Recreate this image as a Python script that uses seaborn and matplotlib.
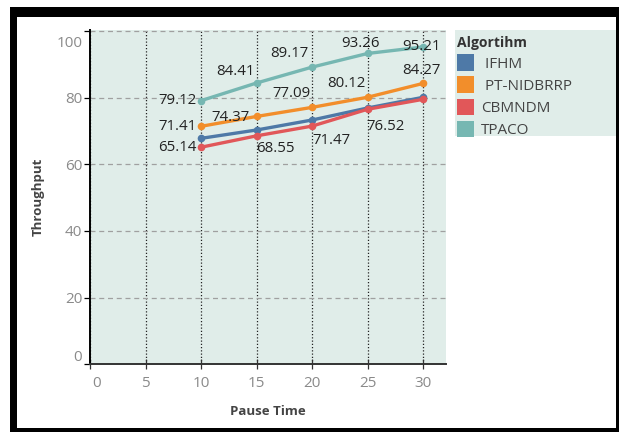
import matplotlib
matplotlib.use("Agg")
import matplotlib.pyplot as plt
from matplotlib.patches import Patch, Rectangle
from matplotlib.transforms import ScaledTranslation
import pandas as pd
import seaborn as sns

# ---- data -------------------------------------------------------------
pause_time = [10, 15, 20, 25, 30]
algorithms = ["IFHM", "PT-NIDBRRP", "CBMNDM", "TPACO"]
legend_labels = [" IFHM", " PT-NIDBRRP", "CBMNDM", "TPACO"]
ifhm = [67.8, 70.3, 73.3, 76.9, 80.1]
pt_nidbrrp = [71.41, 74.37, 77.09, 80.12, 84.27]
cbmndm = [65.14, 68.55, 71.47, 76.52, 79.5]
tpaco = [79.12, 84.41, 89.17, 93.26, 95.21]
x_ticks = [0, 5, 10, 15, 20, 25, 30]
y_ticks = [0, 20, 40, 60, 80, 100]

colors = ["#4E79A7", "#F28E2B", "#E15759", "#76B7B2"]
bg = "#E0EDE9"

series = {"IFHM": ifhm, "PT-NIDBRRP": pt_nidbrrp, "CBMNDM": cbmndm, "TPACO": tpaco}
df = pd.DataFrame(
    [(a, t, v) for a in algorithms for t, v in zip(pause_time, series[a])],
    columns=["Algorithm", "Pause Time", "Throughput"],
)

# value label placement: (point index, dx px, dy px, ha)
label_spots = {
    "TPACO": [(0, -5, 0, "right"), (1, -21, 11, "center"), (2, -23, 14, "center"),
              (3, -7, 10, "center"), (4, -2, 0, "center")],
    "PT-NIDBRRP": [(0, -5, 0, "right"), (1, -26, -1, "center"), (2, -21, 14, "center"),
                   (3, -21, 14, "center"), (4, -2, 13, "center")],
    "CBMNDM": [(0, -5, 0, "right"), (1, 19, -13, "center"), (2, 19, -14, "center"),
               (3, 18, -17, "center")],
}

# ---- style ------------------------------------------------------------
sns.set_style("white")
plt.rcParams["font.family"] = ["Open Sans", "DejaVu Sans"]

W, H = 619, 432
fig = plt.figure(figsize=(W / 100, H / 100), dpi=100)
ax_l, ax_r, ax_t, ax_b = 90.3, 446, 30, 364.3
ax = fig.add_axes([ax_l / W, 1 - ax_b / H, (ax_r - ax_l) / W, (ax_b - ax_t) / H])
ax.set_facecolor(bg)

sns.lineplot(data=df, x="Pause Time", y="Throughput", hue="Algorithm",
             hue_order=algorithms, palette=colors, marker="o", markersize=5.5,
             markeredgewidth=0, linewidth=2.4, legend=False, ax=ax, zorder=3)

for algo, spots in label_spots.items():
    vals = series[algo]
    for i, dx, dy, ha in spots:
        ax.annotate(f"{vals[i]:.2f}", (pause_time[i], vals[i]), xytext=(dx, dy),
                    textcoords="offset pixels", ha=ha, va="center",
                    fontsize=10.8, color="#222222", zorder=5)

ax.set_xlim(0, 32.07)
ax.set_ylim(0, 100.3)
ax.set_xticks(x_ticks)
ax.set_yticks(y_ticks)

ax.yaxis.grid(True, linestyle=(0, (4, 3)), color="#a0a0a0", linewidth=0.9)
ax.xaxis.grid(True, linestyle=(0, (1, 1.6)), color="#222222", linewidth=0.9)
ax.set_axisbelow(True)

for s in ("top", "right"):
    ax.spines[s].set_visible(False)
ax.spines["left"].set_color("black")
ax.spines["left"].set_linewidth(1.4)
ax.spines["bottom"].set_color("#333333")
ax.spines["bottom"].set_linewidth(1.4)

ax.tick_params(axis="y", left=True, direction="out", length=4.3, width=0.9,
               color="black", labelcolor="#8a8a8a", labelsize=11, pad=1.5)
ax.tick_params(axis="x", bottom=True, direction="inout", length=6.5, width=0.9,
               color="#333333", labelcolor="#8a8a8a", labelsize=11, pad=5.5)

fig.canvas.draw()
# keep the outermost tick labels inside the plot area
px = fig.dpi_scale_trans
ytl = ax.yaxis.get_major_ticks()
ytl[-1].label1.set_transform(ytl[-1].label1.get_transform() + ScaledTranslation(0, -0.11, px))
ytl[0].label1.set_transform(ytl[0].label1.get_transform() + ScaledTranslation(0, 0.09, px))
xtl = ax.xaxis.get_major_ticks()
xtl[0].label1.set_transform(xtl[0].label1.get_transform() + ScaledTranslation(0.06, 0, px))

ax.set_xlabel("Pause Time", fontsize=9.5, fontweight="bold", color="#444444")
ax.set_ylabel("Throughput", fontsize=9.5, fontweight="bold", color="#444444")
ax.xaxis.label.set_va("center")
ax.yaxis.label.set_va("center")
ax.xaxis.set_label_coords(0.5, (ax_b - 411.7) / (ax_b - ax_t))
ax.yaxis.set_label_coords((38 - ax_l) / (ax_r - ax_l), 0.5)


def px_rect(x0, y0, x1, y1, **kw):
    return Rectangle((x0 / W, 1 - y1 / H), (x1 - x0) / W, (y1 - y0) / H,
                     transform=fig.transFigure, **kw)


# legend panel
fig.patches.append(px_rect(455, 30, 619, 136, facecolor=bg, edgecolor="none", zorder=0))
handles = [Patch(facecolor=c, edgecolor="none") for c in colors]
leg = fig.legend(handles, legend_labels, title="Algortihm", loc="upper left",
                 bbox_to_anchor=(457 / W, 1 - 35.5 / H), bbox_transform=fig.transFigure,
                 frameon=False, fontsize=11, handlelength=1.1, handleheight=1.25,
                 handletextpad=0.45, labelspacing=0.32, borderpad=0, borderaxespad=0,
                 alignment="left",
                 title_fontproperties={"weight": "bold", "size": 10})
leg.get_title().set_color("#333333")
for t in leg.get_texts():
    t.set_color("#444444")

# black frame
frame_kw = dict(facecolor="black", edgecolor="none", zorder=10)
fig.patches.append(px_rect(10, 7, 619, 17, **frame_kw))
fig.patches.append(px_rect(10, 7, 17, 432, **frame_kw))
fig.patches.append(px_rect(616, 7, 619, 432, **frame_kw))
fig.patches.append(px_rect(10, 428, 619, 432, **frame_kw))

fig.savefig("out.png", dpi=100, facecolor="white")
